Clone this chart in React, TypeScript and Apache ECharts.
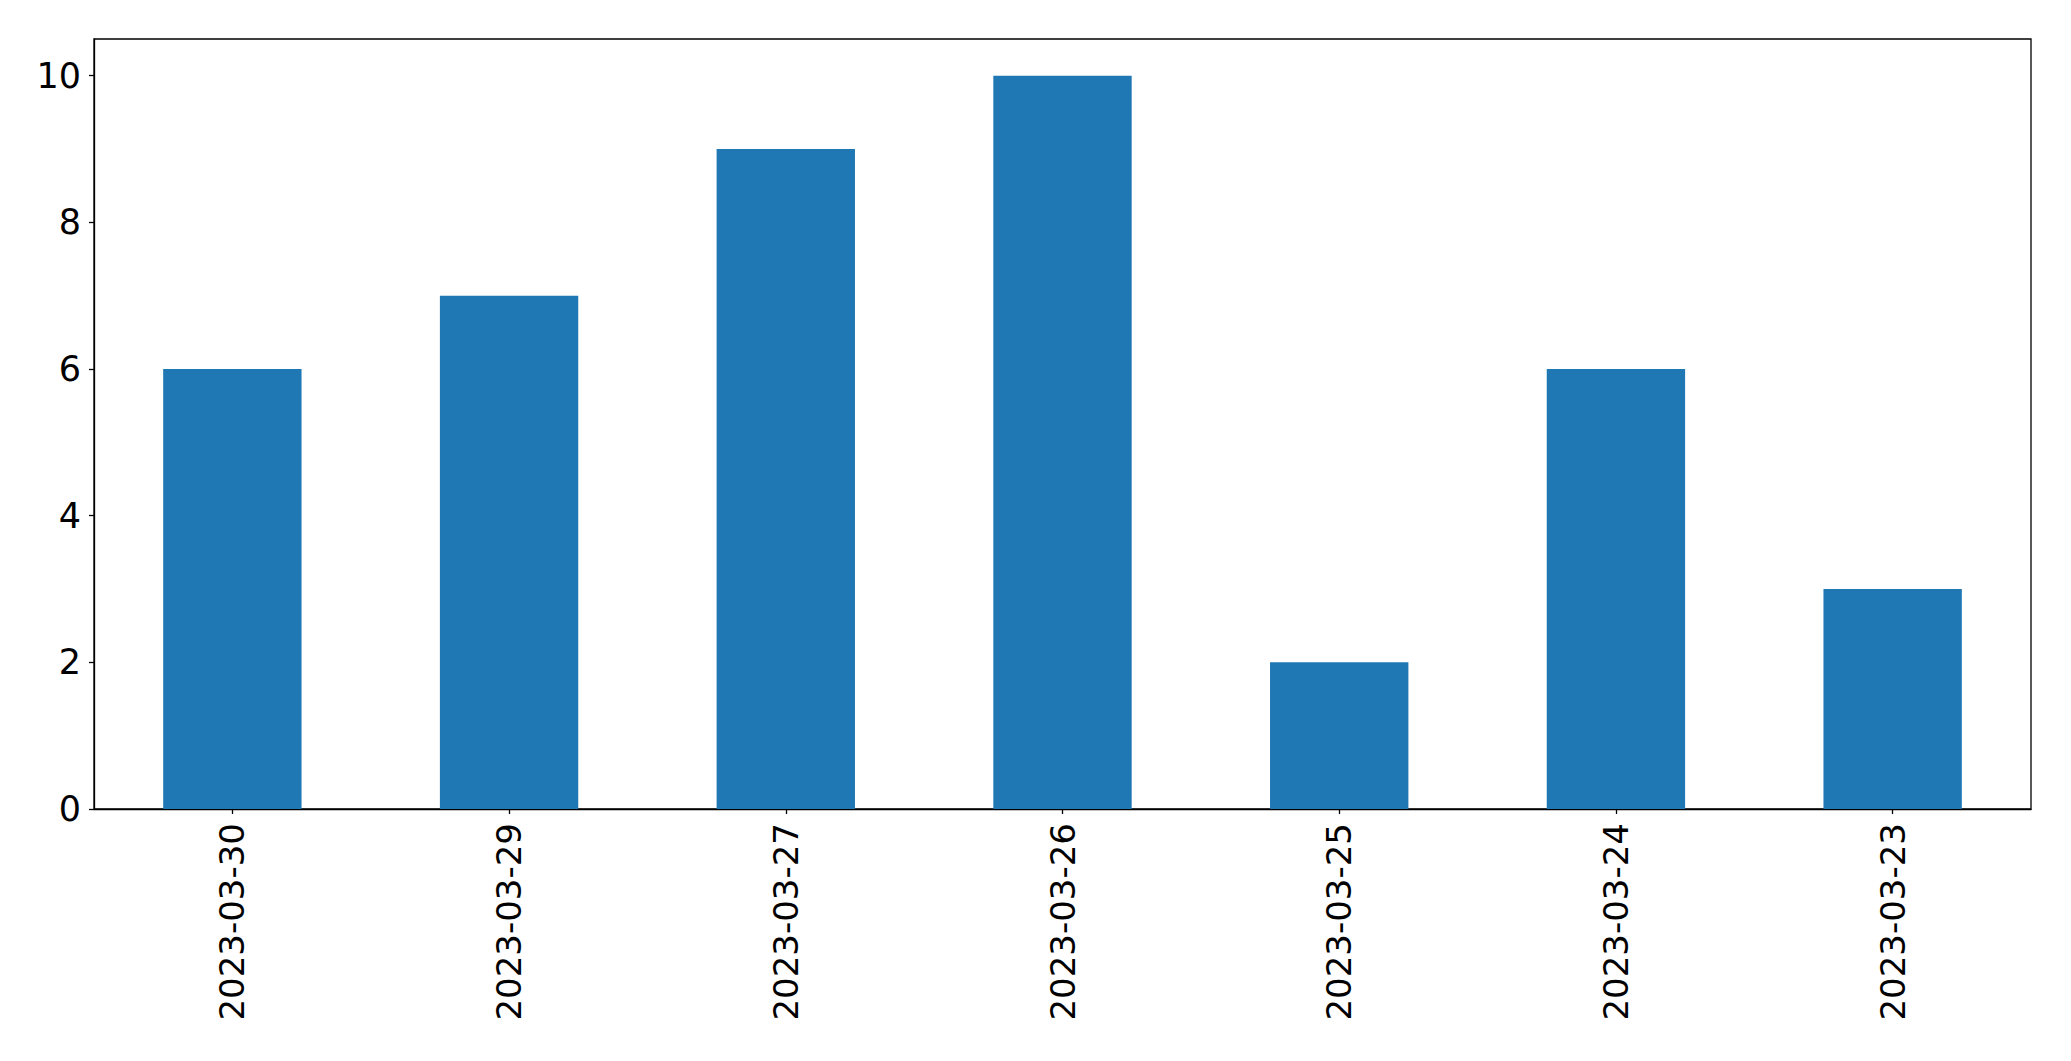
import React, { useEffect, useRef } from "react";
import * as echarts from "echarts";

const categories = ["2023-03-30", "2023-03-29", "2023-03-27", "2023-03-26", "2023-03-25", "2023-03-24", "2023-03-23"];
const values = [6, 7, 9, 10, 2, 6, 3];
const yTicks = [0, 2, 4, 6, 8, 10];

export default function App() {
  const ref = useRef<HTMLDivElement>(null);
  useEffect(() => {
    if (!ref.current) return;
    const chart = echarts.init(ref.current, null, { renderer: "svg" });
    const font = "'DejaVu Sans'";
    chart.setOption({
      animation: false,
      backgroundColor: "#ffffff",
      grid: {
        left: 94,
        top: 39,
        right: 40,
        bottom: 252,
        show: true,
        borderColor: "#000000",
        borderWidth: 1.3,
        backgroundColor: "transparent",
      },
      xAxis: {
        type: "category",
        data: categories,
        boundaryGap: true,
        axisLine: { show: true, lineStyle: { color: "#000000", width: 1.3 } },
        axisTick: { show: true, alignWithLabel: true, length: 5, lineStyle: { color: "#000000", width: 1.3 } },
        axisLabel: { rotate: 90, margin: 14, color: "#000000", fontSize: 34, fontFamily: font, interval: 0 },
        splitLine: { show: false },
      },
      yAxis: {
        type: "value",
        min: 0,
        max: 10.5,
        interval: 2,
        axisLine: { show: true, lineStyle: { color: "#000000", width: 1.3 } },
        axisTick: { show: true, length: 5, customValues: yTicks, lineStyle: { color: "#000000", width: 1.3 } },
        axisLabel: { margin: 13, color: "#000000", fontSize: 35, fontFamily: font, customValues: yTicks },
        splitLine: { show: false },
      },
      series: [
        {
          type: "bar",
          data: values,
          barWidth: "50%",
          itemStyle: { color: "#1f77b4" },
        },
      ],
    });
    return () => chart.dispose();
  }, []);
  return <div ref={ref} style={{ position: "absolute", left: 0, top: 0, width: 2071, height: 1061 }} />;
}
